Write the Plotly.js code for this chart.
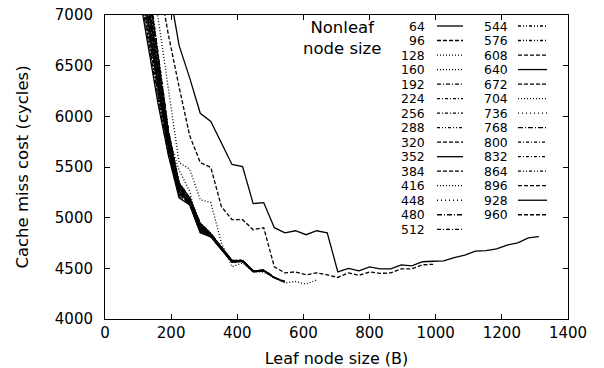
<!DOCTYPE html>
<html><head><meta charset="utf-8">
<script src="https://cdn.plot.ly/plotly-3.0.1.min.js"></script>
<style>html,body{margin:0;padding:0;background:#fff}</style>
</head><body>
<div id="chart" style="width:604px;height:368px"></div>
<script>
// Leaf node sizes (B) -- x positions shared by all series
const leafSizes = [96,128,160,192,224,256,288,320,352,384,416,448,480,512,544,576,608,640,672,704,736,768,800,832,864,896,928,960,992,1024,1056,1088,1120,1152,1184,1216,1248,1280,1312];

// Cache miss cost (cycles) for each nonleaf node size, aligned with leafSizes
const n64  = [null,null,null,7300,6700,6380,6030,5950,5740,5525,5505,5139,5149,4901,4851,4871,4832,4871,4851,4465,4500,4475,4515,4495,4495,4535,4525,4565,4570,4574,4605,4630,4670,4675,4693,4730,4752,4800,4812];
const n96  = [null,null,7380,6800,6290,5810,5545,5495,5109,4980,4980,4881,4901,4515,4455,4465,4436,4455,4436,4410,4455,4430,4465,4450,4455,4495,4495,4535,4540];
const n128 = [null,7350,6600,5800,5470,5260,4860,4825,4700,4575];
const n160 = [null,7700,6990,6240,5545,5480,5178,5149,4750,4515,4554,4470,4462,4410,4355,4370,4345,4385];
const n192 = [7410,6790,6180,5630,5210,5135,4855,4812,4682,4561,4569,4466,4476,4406,4365];
const n224 = [7450,6830,6205,5650,5220,5138,4862,4814,4684,4562,4569,4466,4476,4406];
const n256 = [7490,6870,6235,5665,5230,5144,4868,4816,4685,4564,4570,4467];
const n288 = [7515,6895,6250,5675,5235,5146,4872,4818,4687,4564,4571,4468,4478,4407,4367];
const n320 = [7545,6930,6275,5685,5240,5150,4877,4819,4688,4565];
const n352 = [7350,6720,6130,5610,5195,5125,4850,4810,4680,4560,4568,4465,4475,4405,4365];
const n384 = [7565,6950,6295,5692,5248,5151,4880,4820,4689,4566,4572,4469];
const n416 = [7595,6985,6315,5705,5255,5155,4885,4822,4690,4567,4572,4469,4479,4408];
const n448 = [7640,7030,6345,5720,5262,5159,4892,4825,4693,4568];
const n480 = [7665,7060,6365,5730,5270,5162,4896,4826,4694,4569,4574,4471];
const n512 = [7690,7085,6385,5740,5275,5165,4900,4828,4695,4570,4574,4471,4481,4410,4369];
const n544 = [7720,7120,6410,5752,5282,5168,4905,4829,4697,4571];
const n576 = [7740,7140,6425,5760,5287,5170,4908,4830,4697,4572,4575,4472];
const n608 = [7775,7180,6450,5775,5296,5175,4914,4832,4699,4573];
const n640 = [7800,7205,6470,5785,5302,5178,4918,4834,4700,4574,4576,4473,4483];
const n672 = [7830,7240,6495,5795,5310,5181,4923,4836,4702,4575];
const n704 = [7860,7270,6515,5805,5317,5185,4928,4837,4703,4576,4577,4474];
const n736 = [7895,7305,6540,5820,5325,5188,4933,4839,4705,4577];
const n768 = [null,7330,6560,5830,5330,5191,4937,4840,4706,4577,4578,4475,4485,4414];
const n800 = [null,7365,6585,5840,5338,5194,4942,4842,4708,4578];
const n832 = [null,7395,6600,5850,5344,5197,4946,4844,4709,4579,4580,4477];
const n864 = [null,7420,6620,5860,5350,5200,4950,4845,4710,4580];
const n896 = [7765,7165,6440,5770,5292,5173,4912,4832,4699,4572,4575,4472,4482,4411,4370];
const n928 = [7610,7005,6330,5710,5258,5157,4888,4823,4691,4568,4573,4470];
const n960 = [null,7355,6578,5838,5336,5193,4940,4841,4707,4578];

// Legend labels (nonleaf node sizes), two columns
const legendCol1 = ['64','96','128','160','192','224','256','288','320','352','384','416','448','480','512'];
const legendCol2 = ['544','576','608','640','672','704','736','768','800','832','864','896','928','960'];

const seriesValues = {
  '64':n64,'96':n96,'128':n128,'160':n160,'192':n192,'224':n224,'256':n256,'288':n288,'320':n320,
  '352':n352,'384':n384,'416':n416,'448':n448,'480':n480,'512':n512,'544':n544,'576':n576,'608':n608,
  '640':n640,'672':n672,'704':n704,'736':n736,'768':n768,'800':n800,'832':n832,'864':n864,'896':n896,
  '928':n928,'960':n960
};

// Line styles
const SOLID='solid', DASH='4px,2px', DOT='1px,2px', DOT2='1px,3px', DDOT='4px,2px,1px,2px',
      DDOT2='3px,2px,1px,2px', DDDOT='3px,2px,1px,2px,1px,2px', LDDOT='5px,2px,1px,2px';
const dashStyle = {
  '64':SOLID,'96':DASH,'128':DOT,'160':DOT,'192':DDOT,'224':DDOT2,'256':DDOT2,'288':DDDOT,'320':DASH,
  '352':SOLID,'384':DASH,'416':DOT,'448':DOT2,'480':LDDOT,'512':DDOT,'544':DDDOT,'576':DDDOT,'608':DASH,
  '640':SOLID,'672':DASH,'704':DOT,'736':DOT2,'768':LDDOT,'800':DDOT2,'832':DDOT2,'864':DDDOT,'896':DASH,
  '928':SOLID,'960':DASH
};

const allNames = legendCol1.concat(legendCol2);
const traces = allNames.map(function(name){
  const vals = seriesValues[name];
  return {
    type:'scatter', mode:'lines', name:name,
    x: leafSizes.slice(0, vals.length), y: vals,
    line:{color:'#000', width:1.3, dash:dashStyle[name]},
    connectgaps:false, showlegend:false, hoverinfo:'skip'
  };
});

// Layout helpers: convert pixel position to paper coords
const PL=105, PR=568, PT=15, PB=319;
function px2x(px){ return (px-PL)/(PR-PL); }
function py2y(py){ return (PB-py)/(PB-PT); }

const FONT='DejaVu Sans, Arial, sans-serif';
const annotations = [];
const shapes = [];
annotations.push({xref:'paper',yref:'paper',x:px2x(342),y:py2y(38),xanchor:'center',yanchor:'middle',
  text:'Nonleaf<br>node size',showarrow:false,align:'center',font:{family:FONT,size:16.5,color:'#000'}});
const ROW0=26, ROWSTEP=14.52;
function addCol(labels, labelRight, lx0, lx1){
  labels.forEach(function(lab,i){
    const py = ROW0 + ROWSTEP*i;
    annotations.push({xref:'paper',yref:'paper',x:px2x(labelRight),y:py2y(py),xanchor:'right',yanchor:'middle',
      text:lab,showarrow:false,borderpad:0,font:{family:FONT,size:12.4,color:'#000'}});
    shapes.push({type:'line',xref:'paper',yref:'paper',x0:px2x(lx0),x1:px2x(lx1),y0:py2y(py),y1:py2y(py),
      line:{color:'#000',width:1.3,dash:dashStyle[lab]}});
  });
}
addCol(legendCol1, 426, 437, 463);
addCol(legendCol2, 509, 518, 547);

const axisCommon = {
  showline:true, linecolor:'#000', linewidth:1, mirror:'ticks', ticks:'inside', ticklen:5,
  tickcolor:'#000', showgrid:false, zeroline:false,
  tickfont:{family:FONT,size:15,color:'#000'}
};
const layout = {
  width:604, height:368,
  margin:{l:PL, r:604-PR, t:PT, b:368-PB},
  paper_bgcolor:'#fff', plot_bgcolor:'#fff',
  showlegend:false,
  xaxis:Object.assign({}, axisCommon, {range:[0,1400], tick0:0, dtick:200,
    title:{text:'Leaf node size (B)', font:{family:FONT,size:16,color:'#000'}, standoff:12}}),
  yaxis:Object.assign({}, axisCommon, {range:[4000,7000], tick0:4000, dtick:500, ticklabelstandoff:8,
    title:{text:'Cache miss cost (cycles)', font:{family:FONT,size:16.5,color:'#000'}, standoff:22}}),
  annotations:annotations, shapes:shapes
};
Plotly.newPlot('chart', traces, layout, {staticPlot:true, displayModeBar:false});
</script>
</body></html>
